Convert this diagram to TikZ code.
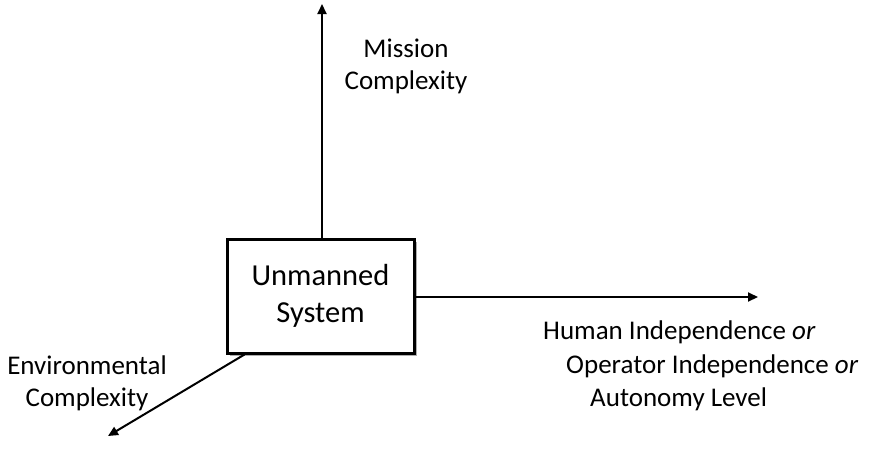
\documentclass[tikz,border=0pt]{standalone}
\usepackage{fontspec}
\setmainfont{Carlito}
\usetikzlibrary{arrows.meta,shadows,calc}

\tikzset{
  axis/.style={line width=2pt, -{Triangle[length=10pt,width=9pt]}},
  sysbox/.style={draw, line width=3pt, fill=white, minimum width=187pt,
    minimum height=114pt, align=center, inner sep=0pt,
    font=\fontsize{30.5}{37}\selectfont,
    drop shadow={shadow xshift=3pt, shadow yshift=-3pt, opacity=0.45, fill=black!70}},
  lbl/.style={inner sep=0pt, anchor=base, font=\fontsize{27}{33}\selectfont},
  lblw/.style={lbl, anchor=base west}
}

\begin{document}
\begin{tikzpicture}[x=1pt, y=-1pt]
  \useasboundingbox (0,0) rectangle (874,466);

  % axis end points
  \coordinate (up)    at (322,4);
  \coordinate (right) at (758,297);
  \coordinate (down)  at (108,436);

  % central block
  \node[sysbox] (sys) at (320.5,296) {Unmanned\\System};

  % axes
  \draw[axis] (up |- sys.north) -- (up);
  \draw[axis] (sys.east |- right) -- (right);
  \coordinate (diagstart) at ($(sys.south west)!0.1!(sys.south east)$);
  \draw[axis] (diagstart) -- (down);

  % axis labels
  \node[lbl] (mis1) at (406,57) {Mission};
  \node[lbl] (mis2) at (406,89) {Complexity};

  \node[lbl] (env1) at (87,374) {Environmental};
  \node[lbl] (env2) at (87,406) {Complexity};

  \node[lblw] (aut1) at (543,339) {Human Independence \textit{or}};
  \node[lblw] (aut2) at (566,373) {Operator Independence \textit{or}};
  \node[lblw] (aut3) at (590,406) {Autonomy Level};
\end{tikzpicture}
\end{document}
